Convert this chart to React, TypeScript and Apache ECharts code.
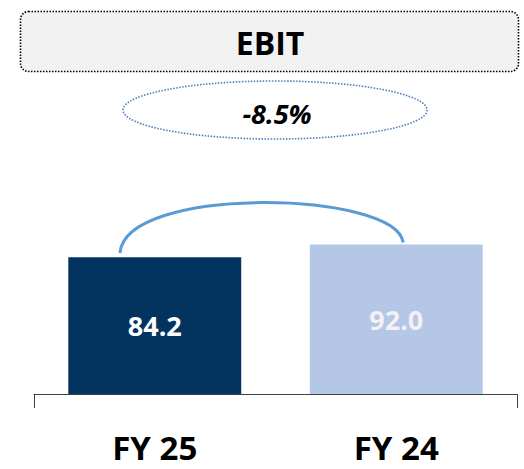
import React, { useEffect, useRef } from "react";
import * as echarts from "echarts";

const categories = ["FY 25", "FY 24"];
const ebitValues = [84.2, 92.0];
const barColors = ["#03335f", "#b4c7e7"];
const labelColors = ["#ffffff", "#f2f2f2"];
const titleText = "EBIT";
const changeText = "-8.5%";
const yMin = 0;
const yMax = 100;

export default function App() {
  const ref = useRef<HTMLDivElement>(null);
  useEffect(() => {
    if (!ref.current) return;
    const chart = echarts.init(ref.current, null, { renderer: "svg" });
    const font = "'Open Sans', 'Noto Sans', sans-serif";
    chart.setOption({
      animation: false,
      backgroundColor: "#ffffff",
      grid: { left: 34, right: 7, top: 231.5, bottom: 75, containLabel: false },
      xAxis: {
        type: "category",
        data: categories,
        boundaryGap: true,
        axisLine: { show: true, lineStyle: { color: "#404040", width: 1 } },
        axisTick: {
          show: true,
          length: 14,
          interval: (idx: number) => idx === 0,
          lineStyle: { color: "#404040", width: 1 },
        },
        axisLabel: {
          margin: 37,
          color: "#000000",
          fontFamily: font,
          fontWeight: "bold",
          fontSize: 33,
        },
      },
      yAxis: {
        type: "value",
        min: yMin,
        max: yMax,
        show: false,
        splitLine: { show: false },
      },
      graphic: [
        {
          type: "rect",
          shape: { x: 20.5, y: 11.5, width: 498, height: 60, r: 8 },
          style: { fill: "#f2f2f2", stroke: "#000000", lineWidth: 1.6, lineDash: [1.5, 1.5] },
        },
        {
          type: "text",
          x: 270,
          y: 42,
          style: {
            text: titleText,
            fill: "#000000",
            font: `bold 32px ${font}`,
            align: "center",
            verticalAlign: "middle",
          },
        },
        {
          type: "ellipse",
          shape: { cx: 275, cy: 110, rx: 152, ry: 29 },
          style: { fill: "#ffffff", stroke: "#4a7ebb", lineWidth: 1.6, lineDash: [1.5, 1.5] },
        },
        {
          type: "text",
          x: 277,
          y: 113,
          style: {
            text: changeText,
            fill: "#000000",
            font: `italic bold 27px ${font}`,
            align: "center",
            verticalAlign: "middle",
          },
        },
      ],
      series: [
        {
          type: "bar",
          barWidth: "71.6%",
          data: ebitValues.map((v, i) => ({
            value: v,
            itemStyle: { color: barColors[i] },
            label: { color: labelColors[i] },
          })),
          label: {
            show: true,
            position: "inside",
            fontFamily: font,
            fontWeight: "bold",
            fontSize: 27,
            formatter: (p: any) => Number(p.value).toFixed(1),
          },
        },
        {
          type: "custom",
          data: [[0, ebitValues[0], ebitValues[1]]],
          silent: true,
          renderItem: (params: any, api: any) => {
            const a = api.coord([0, ebitValues[0]]);
            const b = api.coord([1, ebitValues[1]]);
            const band = api.size([1, 0])[0];
            const sx = a[0] - 0.144 * band;
            const sy = a[1] - 4;
            const ex = b[0] + 0.029 * band;
            const ey = b[1] - 2;
            return {
              type: "bezierCurve",
              shape: {
                x1: sx,
                y1: sy,
                cpx1: sx + 5,
                cpy1: b[1] - 60,
                cpx2: ex - 8,
                cpy2: b[1] - 54,
                x2: ex,
                y2: ey,
              },
              style: { fill: "none", stroke: "#5b9bd5", lineWidth: 3 },
            };
          },
        },
      ],
    });
    return () => chart.dispose();
  }, []);
  return <div ref={ref} style={{ width: 524, height: 469, position: "absolute", left: 0, top: 0 }} />;
}
